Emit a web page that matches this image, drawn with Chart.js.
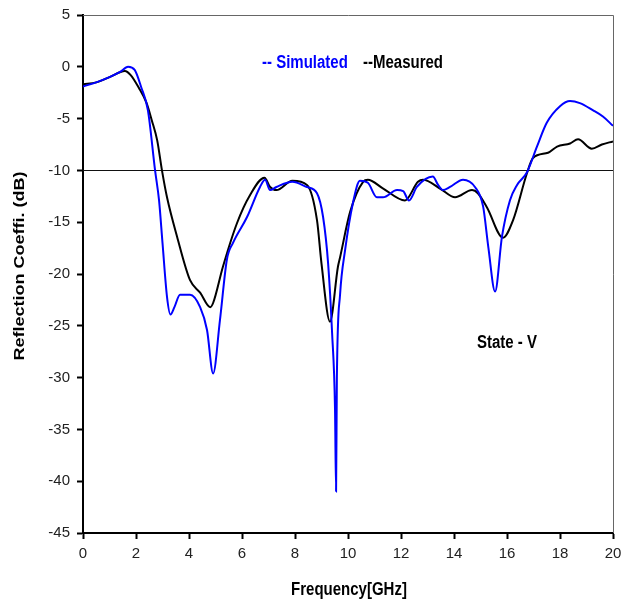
<!DOCTYPE html>
<html>
<head>
<meta charset="utf-8">
<script src="https://cdn.jsdelivr.net/npm/chart.js@4/dist/chart.umd.min.js"></script>
<style>
  html, body { margin: 0; padding: 0; background: #fff; }
  #wrap { width: 622px; height: 609px; position: relative; }
</style>
</head>
<body>
<div id="wrap"><canvas id="c" width="622" height="609"></canvas></div>
<script>
// Simulated reflection coefficient (dB) vs frequency (GHz)
const simFreq = [0, 0.5, 1.0, 1.4, 1.7, 1.95, 2.2, 2.45, 2.72, 2.87, 3.0, 3.17, 3.3, 3.45, 3.66, 4.04, 4.42, 4.68, 4.91, 5.17, 5.43, 5.66, 6.19, 6.68, 6.87, 7.06, 7.3, 7.9, 8.45, 8.83, 9.06, 9.25, 9.4, 9.51, 9.55, 9.58, 9.7, 9.89, 10.19, 10.45, 10.75, 11.09, 11.32, 11.85, 12.08, 12.3, 12.6, 13.2, 13.4, 13.58, 13.85, 14.34, 14.79, 15.1, 15.3, 15.55, 15.81, 16.11, 16.38, 16.75, 17.13, 17.5, 18.0, 18.38, 18.75, 19.25, 19.62, 20];
const simDb   = [-1.9, -1.5, -1.0, -0.5, 0.0, -0.3, -2.0, -4.2, -10.0, -12.9, -17.0, -22.2, -23.9, -23.2, -22.0, -22.0, -23.2, -25.4, -29.6, -24.4, -18.6, -17.0, -14.5, -11.6, -10.9, -11.9, -11.6, -11.1, -11.6, -12.2, -14.5, -19.0, -25.7, -33.0, -41.0, -30.0, -22.0, -17.7, -13.1, -11.0, -11.2, -12.6, -12.6, -11.9, -12.0, -12.9, -11.6, -10.6, -11.4, -11.9, -11.6, -10.9, -11.6, -13.5, -17.5, -21.7, -16.4, -12.9, -11.4, -10.2, -7.7, -5.4, -3.8, -3.3, -3.5, -4.2, -4.8, -5.7];

// Measured reflection coefficient (dB) vs frequency (GHz)
const measFreq = [0, 0.5, 1.0, 1.58, 1.8, 2.1, 2.4, 2.6, 2.8, 2.98, 3.17, 3.55, 4.04, 4.42, 4.8, 4.91, 5.28, 5.81, 6.3, 6.85, 7.06, 7.3, 7.9, 8.45, 8.83, 9.0, 9.32, 9.62, 9.7, 10.08, 10.57, 10.75, 11.3, 12.15, 12.64, 12.83, 13.5, 14.04, 14.68, 14.9, 15.25, 15.85, 16.23, 16.75, 16.98, 17.55, 17.89, 18.38, 18.68, 19.2, 19.58, 20];
const measDb   = [-1.7, -1.5, -1.0, -0.4, -0.8, -2.0, -3.5, -5.2, -7.1, -10.0, -12.6, -16.4, -20.6, -21.8, -23.2, -22.8, -19.3, -15.1, -12.4, -10.7, -11.6, -11.9, -11.0, -11.4, -14.8, -19.0, -24.6, -19.3, -18.4, -14.0, -11.1, -10.9, -11.7, -12.9, -11.1, -10.9, -11.8, -12.6, -11.9, -12.2, -13.6, -16.5, -14.8, -10.3, -8.8, -8.3, -7.7, -7.4, -7.0, -7.9, -7.5, -7.2];

// Axis ranges and ticks
const xTicks = [0, 2, 4, 6, 8, 10, 12, 14, 16, 18, 20];
const yTicks = [5, 0, -5, -10, -15, -20, -25, -30, -35, -40, -45];
const threshold = -10;

const toPoints = (xs, ys) => xs.map((x, i) => ({ x: x, y: ys[i] }));

const FONT = "'Liberation Sans', Arial, sans-serif";
const TICK_FONT = "'Liberation Sans Narrow', 'Liberation Sans', Arial, sans-serif";

// Draws a text string slightly stretched along one direction (tall Excel-style lettering)
function tallText(ctx, text, x, y, opts) {
  ctx.save();
  ctx.translate(x, y);
  if (opts.rotate) ctx.rotate(opts.rotate);
  ctx.scale(opts.sx || 1, opts.sy || 1);
  ctx.font = opts.font;
  ctx.fillStyle = opts.color || '#000';
  ctx.textAlign = opts.align || 'left';
  ctx.textBaseline = 'middle';
  ctx.fillText(text, 0, 0);
  ctx.restore();
}

// Frame lines, -10 dB reference line, legend, axis titles and annotation
const decor = {
  id: 'decor',
  beforeDatasetsDraw(chart) {
    const { ctx, chartArea: a, scales } = chart;
    ctx.save();
    ctx.strokeStyle = '#666';
    ctx.lineWidth = 1;
    ctx.beginPath();
    ctx.moveTo(a.left, a.top + 0.5);
    ctx.lineTo(a.right + 0.5, a.top + 0.5);
    ctx.lineTo(a.right + 0.5, a.bottom);
    ctx.stroke();
    const yt = Math.round(scales.y.getPixelForValue(threshold)) + 0.5;
    ctx.strokeStyle = '#111';
    ctx.beginPath();
    ctx.moveTo(a.left, yt);
    ctx.lineTo(a.right, yt);
    ctx.stroke();
    ctx.restore();
  },
  afterDraw(chart) {
    const { ctx } = chart;
    const bold = 'bold 15px ' + FONT;
    tallText(ctx, '-- Simulated', 262, 63, { font: bold, color: '#0000ff', sy: 1.2 });
    tallText(ctx, '--Measured', 363, 63, { font: bold, color: '#000', sy: 1.2 });
    tallText(ctx, 'State - V', 477, 343, { font: bold, color: '#000', sy: 1.2 });
    tallText(ctx, 'Frequency[GHz]', 349, 590, { font: bold, color: '#000', sy: 1.2, align: 'center' });
    tallText(ctx, 'Reflection Coeffi. (dB)', 20, 266, { font: bold, color: '#000', sx: 1.2, rotate: -Math.PI / 2, align: 'center' });
  }
};

new Chart(document.getElementById('c'), {
  type: 'line',
  data: {
    datasets: [
      {
        label: 'Simulated',
        data: toPoints(simFreq, simDb),
        borderColor: '#0000ff',
        borderWidth: 2,
        pointRadius: 0,
        cubicInterpolationMode: 'monotone',
        fill: false
      },
      {
        label: 'Measured',
        data: toPoints(measFreq, measDb),
        borderColor: '#000000',
        borderWidth: 2,
        pointRadius: 0,
        cubicInterpolationMode: 'monotone',
        fill: false
      }
    ]
  },
  options: {
    responsive: false,
    animation: false,
    devicePixelRatio: 1,
    layout: { padding: { top: 15, right: 9, left: 0, bottom: 0 } },
    plugins: { legend: { display: false }, tooltip: { enabled: false } },
    scales: {
      x: {
        type: 'linear',
        min: 0, max: 20,
        afterFit(s) { s.height = 76; s.paddingLeft = 0; s.paddingRight = 0; },
        afterBuildTicks(s) { s.ticks = xTicks.map(v => ({ value: v })); },
        grid: { drawOnChartArea: false, drawTicks: true, tickLength: 6, color: '#000', tickWidth: 2 },
        border: { display: true, color: '#000', width: 2 },
        ticks: { color: '#222', font: { family: TICK_FONT, size: 15 }, padding: 6, maxRotation: 0 }
      },
      y: {
        type: 'linear',
        min: -45, max: 5,
        afterFit(s) { s.width = 83; s.paddingTop = 0; s.paddingBottom = 0; },
        afterBuildTicks(s) { s.ticks = yTicks.map(v => ({ value: v })); },
        grid: { drawOnChartArea: false, drawTicks: true, tickLength: 6, color: '#000', tickWidth: 2 },
        border: { display: true, color: '#000', width: 2 },
        ticks: { color: '#222', font: { family: TICK_FONT, size: 15 }, padding: 7 }
      }
    }
  },
  plugins: [decor]
});
</script>
</body>
</html>
